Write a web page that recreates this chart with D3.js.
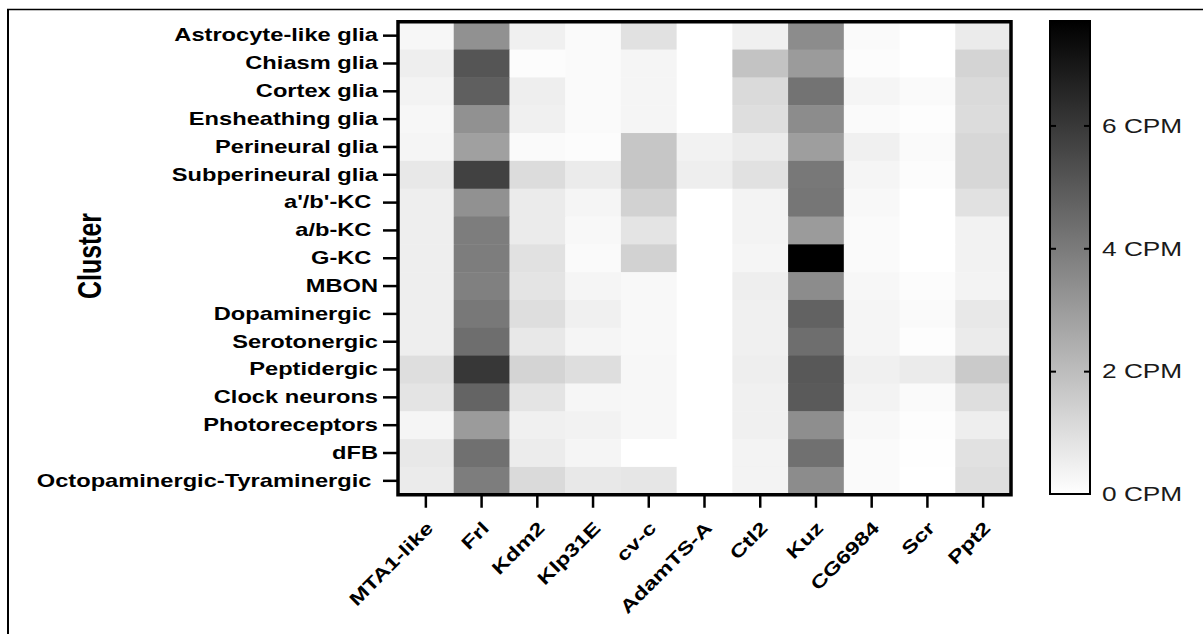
<!DOCTYPE html>
<html>
<head>
<meta charset="utf-8">
<script src="https://cdn.jsdelivr.net/npm/d3@7"></script>
<style>
  body { margin: 0; background: #fff; }
  text { font-family: "Liberation Sans", Arial, sans-serif; }
</style>
</head>
<body>
<div id="chart"></div>
<script>
// data (CPM)
const clusters = ["Astrocyte-like glia", "Chiasm glia", "Cortex glia", "Ensheathing glia",
  "Perineural glia", "Subperineural glia", "a'/b'-KC ", "a/b-KC ", "G-KC ", "MBON",
  "Dopaminergic ", "Serotonergic", "Peptidergic", "Clock neurons", "Photoreceptors", "dFB",
  "Octopaminergic-Tyraminergic "];

const genes = ["MTA1-like", "Frl", "Kdm2", "Klp31E", "cv-c", "AdamTS-A", "Ctl2", "Kuz",
  "CG6984", "Scr", "Ppt2"];

// one row per cluster, columns in gene order
const cpm = [
  [0.24, 3.32, 0.45, 0.15, 0.91, 0.00, 0.45, 3.47, 0.15, 0.00, 0.60],
  [0.51, 5.13, 0.09, 0.15, 0.30, 0.00, 1.81, 3.02, 0.09, 0.00, 1.30],
  [0.36, 4.83, 0.51, 0.15, 0.30, 0.00, 1.12, 4.23, 0.30, 0.15, 1.12],
  [0.24, 3.32, 0.45, 0.15, 0.30, 0.00, 1.00, 3.47, 0.15, 0.06, 1.06],
  [0.30, 2.87, 0.15, 0.09, 1.72, 0.39, 0.60, 2.93, 0.45, 0.15, 1.21],
  [0.69, 5.74, 1.06, 0.60, 1.72, 0.51, 0.91, 4.08, 0.30, 0.09, 1.21],
  [0.51, 3.32, 0.60, 0.30, 1.36, 0.00, 0.36, 4.14, 0.21, 0.00, 0.91],
  [0.51, 3.93, 0.60, 0.21, 0.82, 0.00, 0.36, 3.02, 0.15, 0.00, 0.39],
  [0.51, 3.93, 0.91, 0.15, 1.36, 0.00, 0.30, 7.70, 0.15, 0.00, 0.39],
  [0.51, 3.84, 0.82, 0.30, 0.21, 0.00, 0.51, 3.47, 0.24, 0.09, 0.36],
  [0.51, 4.08, 1.00, 0.45, 0.21, 0.00, 0.45, 4.74, 0.30, 0.15, 0.69],
  [0.51, 4.38, 0.69, 0.30, 0.21, 0.00, 0.45, 4.38, 0.30, 0.06, 0.60],
  [1.00, 6.04, 1.30, 1.00, 0.24, 0.00, 0.51, 5.04, 0.45, 0.60, 1.60],
  [0.82, 4.68, 0.82, 0.27, 0.24, 0.00, 0.45, 4.98, 0.36, 0.15, 1.00],
  [0.30, 3.02, 0.45, 0.39, 0.24, 0.00, 0.45, 3.41, 0.21, 0.06, 0.51],
  [0.69, 4.32, 0.57, 0.30, 0.00, 0.00, 0.36, 4.32, 0.15, 0.03, 0.91],
  [0.60, 3.93, 1.12, 0.69, 0.75, 0.00, 0.36, 3.47, 0.15, 0.00, 1.00]
];

const legendTicks = [0, 2, 4, 6];
const cpmMax = 7.7;

// layout
const outerWidth = 1203;
const outerHeight = 634;
const plot = {left: 398, right: 1011, top: 21.75, bottom: 494.75};
const legend = {left: 1050, width: 40, top: 21, bottom: 494};
const stretch = 1.3; // the figure's lettering is wide

const svg = d3.select("#chart")
  .append("svg")
  .attr("width", outerWidth)
  .attr("height", outerHeight);

// figure frame (top + left only)
svg.append("line")
  .attr("x1", 7).attr("x2", 1203).attr("y1", 9.5).attr("y2", 9.5)
  .attr("stroke", "#000").attr("stroke-width", 1.5);
svg.append("line")
  .attr("x1", 8).attr("x2", 8).attr("y1", 9).attr("y2", outerHeight)
  .attr("stroke", "#000").attr("stroke-width", 2);

const xScale = d3.scaleBand()
  .domain(genes)
  .range([plot.left, plot.right]);

const yScale = d3.scaleBand()
  .domain(clusters)
  .range([plot.top, plot.bottom]);

const color = d3.scaleLinear()
  .domain([0, cpmMax])
  .range(["#ffffff", "#000000"]);

// cells
const cells = [];
clusters.forEach((c, i) => genes.forEach((g, j) => cells.push({cluster: c, gene: g, value: cpm[i][j]})));

svg.append("g")
  .selectAll("rect")
  .data(cells)
  .join("rect")
    .attr("x", d => xScale(d.gene))
    .attr("y", d => yScale(d.cluster))
    .attr("width", xScale.bandwidth() + 0.5)
    .attr("height", yScale.bandwidth() + 0.5)
    .attr("fill", d => color(d.value));

// plot frame
svg.append("rect")
  .attr("x", plot.left)
  .attr("y", plot.top)
  .attr("width", plot.right - plot.left)
  .attr("height", plot.bottom - plot.top)
  .attr("fill", "none")
  .attr("stroke", "#000")
  .attr("stroke-width", 3.5);

// y axis
const yAxis = d3.axisLeft(yScale).tickSizeInner(15).tickSizeOuter(0);
const gy = svg.append("g")
  .attr("class", "axis-y-axis")
  .attr("transform", `translate(${plot.left}, 0)`)
  .call(yAxis);
gy.select(".domain").remove();
gy.selectAll(".tick line").attr("stroke-width", 2.5);
gy.selectAll(".tick text")
  .attr("x", -20 / stretch)
  .attr("transform", `scale(${stretch},1)`)
  .style("white-space", "pre")
  .attr("font-size", 18.2)
  .attr("font-weight", "bold")
  .attr("fill", "#000");

// x axis
const xAxis = d3.axisBottom(xScale).tickSizeInner(13).tickSizeOuter(0);
const gx = svg.append("g")
  .attr("class", "axis-x-axis")
  .attr("transform", `translate(0, ${plot.bottom})`)
  .call(xAxis);
gx.select(".domain").remove();
gx.selectAll(".tick line").attr("stroke-width", 2.5);
gx.selectAll(".tick text")
  .attr("x", 0)
  .attr("y", 0)
  .attr("dy", "0.35em")
  .attr("text-anchor", "end")
  .attr("transform", `translate(4, 30) rotate(-45) scale(${stretch},1)`)
  .attr("font-size", 18.2)
  .attr("font-weight", "bold")
  .attr("fill", "#000");

// y axis title
svg.append("text")
  .attr("class", "y-axis-title")
  .attr("transform", `translate(89, 256) scale(1.34,1) rotate(-90)`)
  .attr("text-anchor", "middle")
  .attr("dy", "0.35em")
  .attr("font-size", 25)
  .attr("font-weight", "bold")
  .text("Cluster");

// colour legend
const defs = svg.append("defs");
const grad = defs.append("linearGradient")
  .attr("id", "cpm-grad")
  .attr("x1", 0).attr("y1", 1).attr("x2", 0).attr("y2", 0);
grad.append("stop").attr("offset", 0).attr("stop-color", color(0));
grad.append("stop").attr("offset", 1).attr("stop-color", color(cpmMax));

const legendScale = d3.scaleLinear()
  .domain([0, cpmMax])
  .range([legend.bottom, legend.top]);

svg.append("rect")
  .attr("x", legend.left)
  .attr("y", legend.top)
  .attr("width", legend.width)
  .attr("height", legend.bottom - legend.top)
  .attr("fill", "url(#cpm-grad)")
  .attr("stroke", "#000")
  .attr("stroke-width", 2);

const gl = svg.append("g")
  .attr("transform", `translate(${legend.left + legend.width}, 0)`)
  .call(d3.axisRight(legendScale)
    .tickValues(legendTicks)
    .tickSizeInner(-6)
    .tickSizeOuter(0)
    .tickPadding(12)
    .tickFormat(d => d + " CPM"));
gl.select(".domain").remove();
gl.selectAll(".tick line").attr("stroke-width", 2).filter(d => d === 0).remove();
gl.selectAll(".tick text")
  .attr("x", 12 / 1.25)
  .attr("transform", "scale(1.25,1)")
  .attr("font-size", 21)
  .attr("fill", "#1a1a1a");

const glLeft = svg.append("g")
  .attr("transform", `translate(${legend.left}, 0)`)
  .call(d3.axisLeft(legendScale)
    .tickValues(legendTicks.filter(d => d > 0))
    .tickSizeInner(-6)
    .tickSizeOuter(0)
    .tickFormat(""));
glLeft.select(".domain").remove();
glLeft.selectAll(".tick line").attr("stroke-width", 2);
</script>
</body>
</html>
